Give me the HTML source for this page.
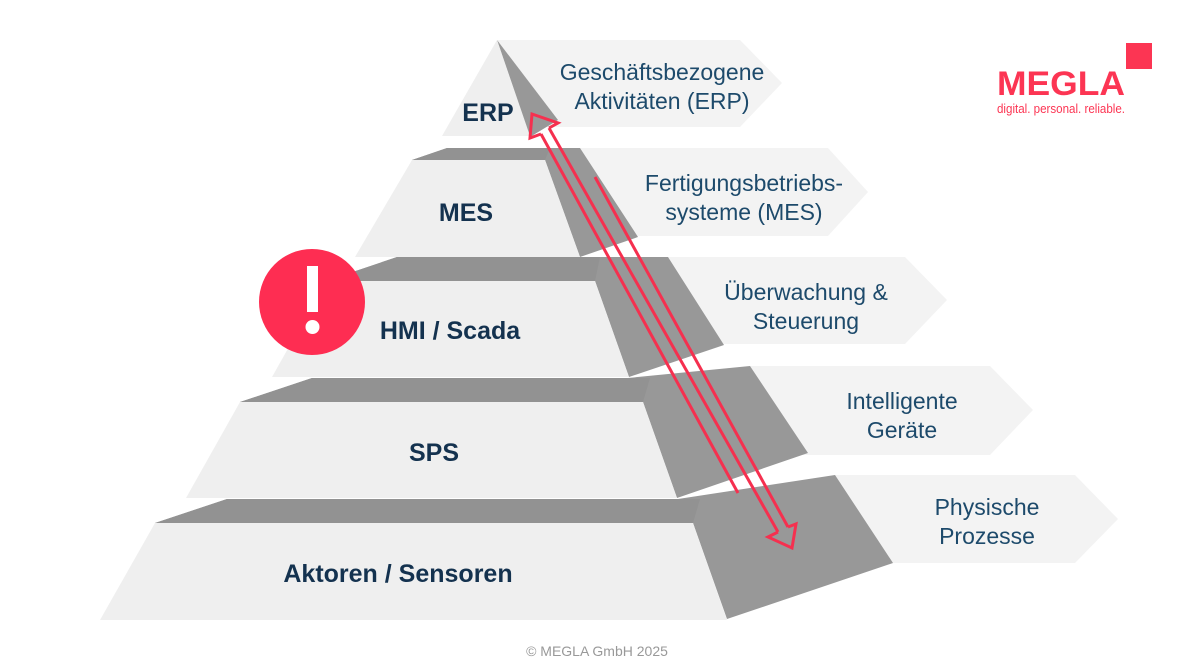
<!DOCTYPE html>
<html><head><meta charset="utf-8"><style>
html,body{margin:0;padding:0;background:#fff;}
svg{display:block;}
.lv{font-family:"Liberation Sans",sans-serif;font-weight:bold;font-size:25px;fill:#14324f;}
.bn{font-family:"Liberation Sans",sans-serif;font-size:23px;fill:#1d4a6b;}
</style></head><body>
<svg width="1194" height="671" viewBox="0 0 1194 671" xmlns="http://www.w3.org/2000/svg">
<g fill="#f3f3f3">
<polygon points="497,40 740,40 782,83 740,127 497,127"/>
<polygon points="580,148 828,148 868,192 828,236 580,236"/>
<polygon points="665,257 905,257 947,300 905,344 665,344"/>
<polygon points="750,366 990,366 1033,410 990,455 750,455"/>
<polygon points="835,475 1075,475 1118,519 1075,563 835,563"/>
</g>
<polygon points="155,523 227,499 678,499 835,475 893,563 727,619 693,523" fill="#989898"/>
<polygon points="155,523 227,499 700,499 693,523" fill="#929292"/>
<polygon points="155,523 693,523 727,620 100,620" fill="#efefef"/>
<polygon points="240,402 312,378 628,378 750,366 808,453 677,498 643,402" fill="#989898"/>
<polygon points="240,402 312,378 650,378 643,402" fill="#929292"/>
<polygon points="240,402 643,402 677,498 186,498" fill="#efefef"/>
<polygon points="326,281 397,257 668,257 724,345 629,377 595,281" fill="#989898"/>
<polygon points="326,281 397,257 600,257 595,281" fill="#929292"/>
<polygon points="326,281 595,281 629,377 272,377" fill="#efefef"/>
<polygon points="412,160 447,148 580,148 638,237 580,257 545,160" fill="#989898"/>
<polygon points="412,160 447,148 550,148 545,160" fill="#929292"/>
<polygon points="412,160 545,160 580,257 355,257" fill="#efefef"/>
<polygon points="497,40 558,120 530,137" fill="#989898"/>
<polygon points="497,40 530,136 442,136" fill="#efefef"/>
<text class="lv" x="488" y="121" text-anchor="middle">ERP</text>
<text class="lv" x="466" y="221" text-anchor="middle">MES</text>
<text class="lv" x="450" y="339" text-anchor="middle">HMI / Scada</text>
<text class="lv" x="434" y="461" text-anchor="middle">SPS</text>
<text class="lv" x="398" y="582" text-anchor="middle">Aktoren / Sensoren</text>
<g class="bn" text-anchor="middle">
<text x="662" y="80">Geschäftsbezogene</text><text x="662" y="109">Aktivitäten (ERP)</text>
<text x="744" y="191">Fertigungsbetriebs-</text><text x="744" y="220">systeme (MES)</text>
<text x="806" y="300">Überwachung &amp;</text><text x="806" y="329">Steuerung</text>
<text x="902" y="409">Intelligente</text><text x="902" y="438">Geräte</text>
<text x="987" y="515">Physische</text><text x="987" y="544">Prozesse</text>
</g>
<g stroke="#f5304f" stroke-width="3" fill="none" stroke-linejoin="miter">
<polyline points="541,134 530,138 532,114 558,123 549,128"/>
<line x1="541" y1="134" x2="738" y2="493"/>
<line x1="549" y1="128" x2="778" y2="532"/>
<line x1="595" y1="177" x2="788" y2="527"/>
<polyline points="778,532 768,537 792,548 796,524 788,527"/>
</g>
<circle cx="312" cy="302" r="53" fill="#fe2d52"/>
<rect x="307" y="266" width="11" height="46" fill="#fff"/>
<circle cx="312.5" cy="327" r="7" fill="#fff"/>
<rect x="1126" y="43" width="26" height="26" fill="#fc3553"/>
<text x="997" y="95" font-family="'Liberation Sans',sans-serif" font-weight="bold" font-size="34" fill="#fc3553" textLength="128" lengthAdjust="spacingAndGlyphs">MEGLA</text>
<text x="997" y="113" font-family="'Liberation Sans',sans-serif" font-size="12.5" fill="#fc3553" textLength="128" lengthAdjust="spacingAndGlyphs">digital. personal. reliable.</text>
<text x="597" y="656" text-anchor="middle" font-family="'Liberation Sans',sans-serif" font-size="14" fill="#999">© MEGLA GmbH 2025</text>
</svg>
</body></html>
